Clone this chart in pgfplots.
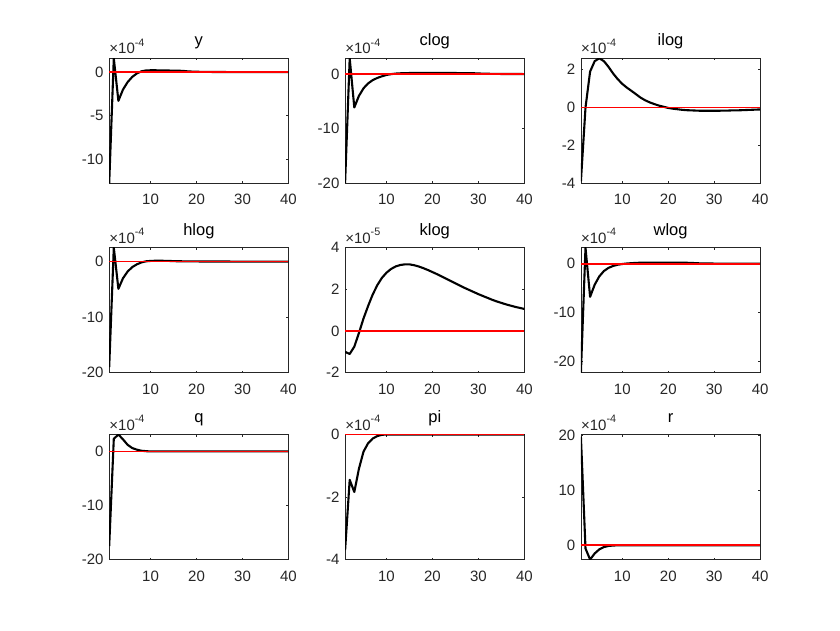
\documentclass[border=0pt]{standalone}
\usepackage{fontspec}
\setmainfont{Liberation Sans}
\usepackage{pgfplots}
\pgfplotsset{compat=1.18}

\definecolor{mgray}{rgb}{0.15,0.15,0.15}
\newcommand\tickfont{\fontsize{15}{17}\selectfont}
\newcommand\titlefont{\fontsize{16.5}{18}\selectfont}
\newcommand\expfont{\fontsize{10.8}{12}\selectfont}

% common look of every impulse-response panel
\pgfplotsset{
  irf/.style={
    scale only axis, width=179.3pt, height=125pt,
    anchor=south west,
    xmin=1, xmax=40,
    xtick={10,20,30,40}, xticklabels={10,20,30,40},
    tick align=inside, major tick length=2pt,
    axis line style={draw=mgray, line width=0.6pt},
    every tick/.style={draw=mgray, line width=0.6pt},
    tick label style={font=\tickfont, text=mgray, inner sep=0pt},
    xticklabel shift=11pt, yticklabel shift=5.5pt,
    title style={font=\titlefont, text=black, anchor=base, at={(0.5,1)}, yshift=6.5pt, inner sep=0pt},
    clip mode=individual,
  },
  irfline/.style={black, line width=2.1pt, line join=round},
  zeroline/.style={draw=red, line width=1.5pt},
  expo/.style={extra description/.code={
    \node[anchor=base west, inner sep=0pt, text=mgray, font=\tickfont]
      at (0,1) [yshift=4.5pt] {\texttimes10\raisebox{0.5em}{\expfont -#1}};}},
}

\begin{document}
\begin{tikzpicture}
\path (0pt,0pt) rectangle (840pt,630pt);

% ---------- row 1 ----------
\begin{axis}[irf, at={(109.2pt,446.7pt)}, title={y}, expo=4,
  ymin=-12.8, ymax=1.6, ytick={-10,-5,0}, yticklabels={-10,-5,0}]
\addplot[irfline] coordinates {
(1,-12.8) (2,1.6) (3,-3.3) (4,-2.0) (5,-1.15) (6,-0.55) (7,-0.15) (8,0.1)
(9,0.2) (10,0.22) (11,0.22) (12,0.21) (13,0.2) (14,0.19) (15,0.18) (16,0.17)
(17,0.15) (18,0.1) (19,0.07) (20,0.05) (21,0.04) (22,0.03) (23,0.03) (24,0.02)
(25,0.02) (26,0.02) (27,0.01) (28,0.01) (29,0.01) (30,0.01) (31,0.0) (32,0.0)
(33,0.0) (34,0.0) (35,0.0) (36,0.0) (37,0.0) (38,0.0) (39,0.0) (40,0.0)};
\addplot[zeroline] coordinates {(1,0) (40,0)};
\end{axis}

\begin{axis}[irf, at={(345.1pt,446.7pt)}, title={clog}, expo=4,
  ymin=-20, ymax=2.9, ytick={-20,-10,0}, yticklabels={-20,-10,0}]
\addplot[irfline] coordinates {
(1,-19.9) (2,2.9) (3,-6.1) (4,-4.0) (5,-2.6) (6,-1.7) (7,-1.1) (8,-0.7)
(9,-0.4) (10,-0.15) (11,0.0) (12,0.1) (13,0.15) (14,0.18) (15,0.2) (16,0.2)
(17,0.2) (18,0.2) (19,0.2) (20,0.2) (21,0.2) (22,0.2) (23,0.2) (24,0.2)
(25,0.2) (26,0.19) (27,0.19) (28,0.18) (29,0.16) (30,0.12) (31,0.09) (32,0.07)
(33,0.05) (34,0.04) (35,0.03) (36,0.03) (37,0.02) (38,0.02) (39,0.02) (40,0.01)};
\addplot[zeroline] coordinates {(1,0) (40,0)};
\end{axis}

\begin{axis}[irf, at={(580.9pt,446.7pt)}, title={ilog}, expo=4,
  ymin=-4, ymax=2.6, ytick={-4,-2,0,2}, yticklabels={-4,-2,0,2}]
\addplot[irfline] coordinates {
(1,-3.9) (2,0.0) (3,1.9) (4,2.45) (5,2.6) (6,2.45) (7,2.15) (8,1.8)
(9,1.5) (10,1.25) (11,1.05) (12,0.88) (13,0.7) (14,0.52) (15,0.38) (16,0.27)
(17,0.18) (18,0.1) (19,0.04) (20,-0.02) (21,-0.06) (22,-0.09) (23,-0.12) (24,-0.14)
(25,-0.15) (26,-0.16) (27,-0.17) (28,-0.17) (29,-0.17) (30,-0.17) (31,-0.17) (32,-0.16)
(33,-0.16) (34,-0.15) (35,-0.15) (36,-0.14) (37,-0.13) (38,-0.12) (39,-0.11) (40,-0.1)};
\addplot[zeroline] coordinates {(1,0) (40,0)};
\end{axis}

% ---------- row 2 ----------
\begin{axis}[irf, at={(109.2pt,257.3pt)}, title={hlog}, expo=4,
  ymin=-20, ymax=2.5, ytick={-20,-10,0}, yticklabels={-20,-10,0}]
\addplot[irfline] coordinates {
(1,-19.0) (2,2.5) (3,-4.9) (4,-3.0) (5,-1.8) (6,-1.0) (7,-0.5) (8,-0.15)
(9,0.05) (10,0.12) (11,0.15) (12,0.15) (13,0.14) (14,0.12) (15,0.08) (16,0.06)
(17,0.05) (18,0.04) (19,0.03) (20,0.03) (21,0.02) (22,0.02) (23,0.02) (24,0.01)
(25,0.01) (26,0.01) (27,0.01) (28,0.0) (29,0.0) (30,0.0) (31,0.0) (32,0.0)
(33,0.0) (34,0.0) (35,0.0) (36,0.0) (37,0.0) (38,0.0) (39,0.0) (40,0.0)};
\addplot[zeroline] coordinates {(1,0) (40,0)};
\end{axis}

\begin{axis}[irf, at={(345.1pt,257.3pt)}, title={klog}, expo=5,
  ymin=-2, ymax=4, ytick={-2,0,2,4}, yticklabels={-2,0,2,4}]
\addplot[irfline] coordinates {
(1,-1.0) (2,-1.1) (3,-0.75) (4,-0.1) (5,0.6) (6,1.2) (7,1.75) (8,2.2)
(9,2.55) (10,2.8) (11,2.98) (12,3.1) (13,3.17) (14,3.2) (15,3.2) (16,3.16)
(17,3.1) (18,3.02) (19,2.93) (20,2.83) (21,2.73) (22,2.62) (23,2.51) (24,2.4)
(25,2.29) (26,2.18) (27,2.07) (28,1.97) (29,1.87) (30,1.77) (31,1.68) (32,1.59)
(33,1.5) (34,1.42) (35,1.35) (36,1.28) (37,1.22) (38,1.16) (39,1.11) (40,1.06)};
\addplot[zeroline] coordinates {(1,0) (40,0)};
\end{axis}

\begin{axis}[irf, at={(580.9pt,257.3pt)}, title={wlog}, expo=4,
  ymin=-22.4, ymax=3.3, ytick={-20,-10,0}, yticklabels={-20,-10,0}]
\addplot[irfline] coordinates {
(1,-22.4) (2,3.3) (3,-6.8) (4,-4.3) (5,-2.6) (6,-1.5) (7,-0.85) (8,-0.45)
(9,-0.2) (10,-0.05) (11,0.05) (12,0.12) (13,0.18) (14,0.21) (15,0.22) (16,0.22)
(17,0.22) (18,0.22) (19,0.22) (20,0.22) (21,0.22) (22,0.21) (23,0.21) (24,0.2)
(25,0.18) (26,0.12) (27,0.08) (28,0.06) (29,0.05) (30,0.04) (31,0.03) (32,0.03)
(33,0.02) (34,0.02) (35,0.02) (36,0.01) (37,0.01) (38,0.01) (39,0.01) (40,0.01)};
\addplot[zeroline] coordinates {(1,0) (40,0)};
\end{axis}

% ---------- row 3 ----------
\begin{axis}[irf, at={(109.2pt,70.5pt)}, title={q}, expo=4,
  ymin=-20, ymax=3.1, ytick={-20,-10,0}, yticklabels={-20,-10,0}]
\addplot[irfline] coordinates {
(1,-17.5) (2,2.3) (3,3.1) (4,2.2) (5,1.2) (6,0.6) (7,0.3) (8,0.1)
(9,0.02) (10,-0.03) (11,-0.03) (12,-0.03) (13,-0.03) (14,-0.03) (15,-0.03) (16,-0.03)
(17,-0.03) (18,-0.03) (19,-0.03) (20,-0.03) (21,-0.03) (22,-0.03) (23,-0.03) (24,-0.03)
(25,-0.03) (26,-0.03) (27,-0.03) (28,-0.03) (29,-0.03) (30,-0.03) (31,-0.03) (32,-0.03)
(33,-0.03) (34,-0.03) (35,-0.03) (36,-0.03) (37,-0.03) (38,-0.03) (39,-0.03) (40,-0.03)};
\addplot[zeroline] coordinates {(1,0) (40,0)};
\end{axis}

\begin{axis}[irf, at={(345.1pt,70.5pt)}, title={pi}, expo=4,
  ymin=-4, ymax=0, ytick={-4,-2,0}, yticklabels={-4,-2,0}]
\addplot[irfline] coordinates {
(1,-3.7) (2,-1.45) (3,-1.84) (4,-1.1) (5,-0.55) (6,-0.28) (7,-0.13) (8,-0.05)
(9,-0.01) (10,0.0) (11,0.0) (12,0.0) (13,0.0) (14,0.0) (15,0.0) (16,0.0)
(17,0.0) (18,0.0) (19,0.0) (20,0.0) (21,0.0) (22,0.0) (23,0.0) (24,0.0)
(25,0.0) (26,0.0) (27,0.0) (28,0.0) (29,0.0) (30,0.0) (31,0.0) (32,0.0)
(33,0.0) (34,0.0) (35,0.0) (36,0.0) (37,0.0) (38,0.0) (39,0.0) (40,0.0)};
\addplot[zeroline] coordinates {(1,0) (40,0)};
\end{axis}

\begin{axis}[irf, at={(580.9pt,70.5pt)}, title={r}, expo=4,
  ymin=-2.6, ymax=20.2, ytick={0,10,20}, yticklabels={0,10,20}]
\addplot[irfline] coordinates {
(1,19.8) (2,-0.6) (3,-2.6) (4,-1.5) (5,-0.75) (6,-0.33) (7,-0.13) (8,-0.05)
(9,-0.02) (10,-0.01) (11,0.0) (12,0.0) (13,0.0) (14,0.0) (15,0.0) (16,0.0)
(17,0.0) (18,0.0) (19,0.0) (20,0.0) (21,0.0) (22,0.0) (23,0.0) (24,0.0)
(25,0.0) (26,0.0) (27,0.0) (28,0.0) (29,0.0) (30,0.0) (31,0.0) (32,0.0)
(33,0.0) (34,0.0) (35,0.0) (36,0.0) (37,0.0) (38,0.0) (39,0.0) (40,0.0)};
\addplot[zeroline] coordinates {(1,0) (40,0)};
\end{axis}
\end{tikzpicture}
\end{document}
